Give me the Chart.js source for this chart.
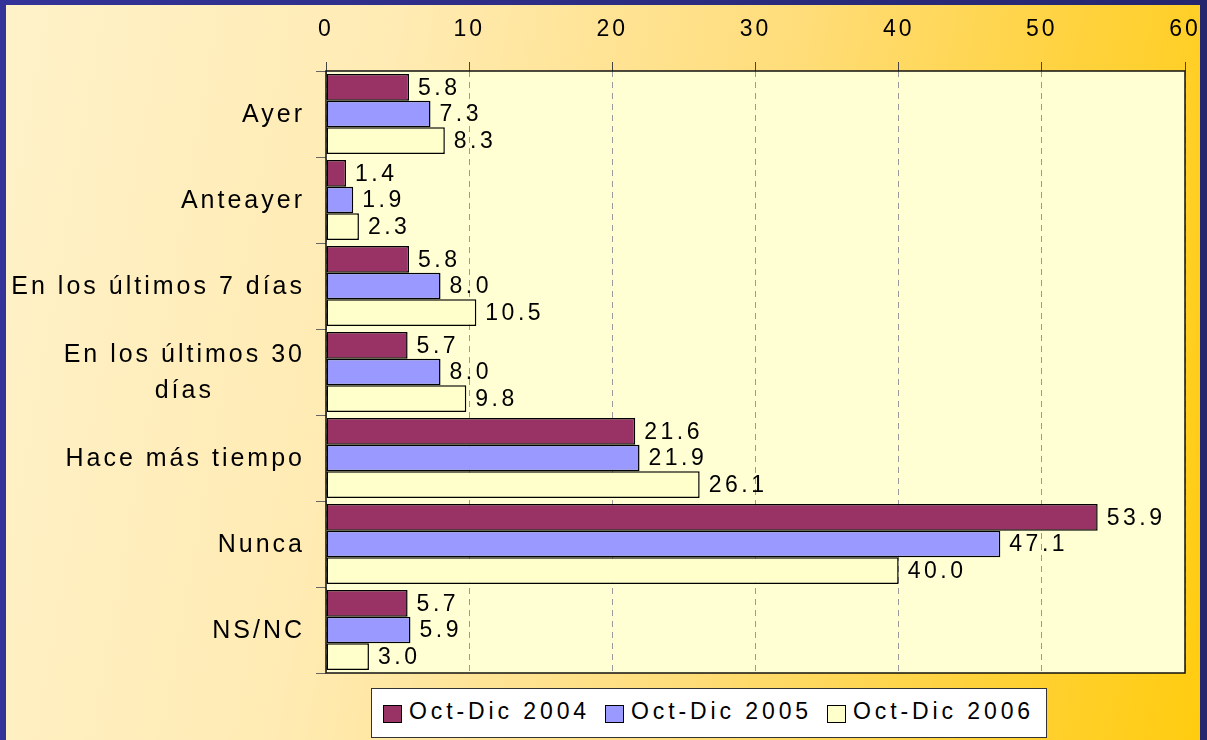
<!DOCTYPE html>
<html>
<head>
<meta charset="utf-8">
<script src="https://cdn.jsdelivr.net/npm/chart.js@4/dist/chart.umd.min.js"></script>
<style>
  html, body { margin: 0; padding: 0; }
  body {
    width: 1207px; height: 740px; overflow: hidden; position: relative;
    background: linear-gradient(to right, #333399, #26266e);
    font-family: "Liberation Sans", Arial, sans-serif;
  }
  #frame {
    position: absolute; left: 6px; top: 5px; width: 1194px; height: 740px;
    background: linear-gradient(100deg, #FFF2C9 0%, #FFEBB3 30%, #FFDD7A 60%, #FFD23C 82%, #FFCC0F 100%);
  }
  #chart { position: absolute; left: 0; top: 0; }
  #legend {
    position: absolute; left: 371px; top: 688px; width: 663px; height: 48px;
    background: #fff; border: 1px solid #333;
    display: flex; align-items: center; padding-left: 11px; box-sizing: content-box;
    font-size: 23px; letter-spacing: 3.9px; color: #000; white-space: nowrap;
  }
  #legend .item { display: flex; align-items: center; flex-shrink: 0; margin-right: 15px; margin-top: -4px; }
  #legend .sw { width: 17px; height: 16px; border: 1px solid #000; margin-right: 7px; margin-top: 6px; flex-shrink: 0; }
</style>
</head>
<body>
<div id="frame"></div>
<canvas id="chart" width="1207" height="740"></canvas>
<div id="legend"></div>
<script>
const categories = ['Ayer', 'Anteayer', 'En los últimos 7 días', ['En los últimos 30', 'días'], 'Hace más tiempo', 'Nunca', 'NS/NC'];
const seriesNames = ['Oct-Dic 2004', 'Oct-Dic 2005', 'Oct-Dic 2006'];
const values2004 = [5.8, 1.4, 5.8, 5.7, 21.6, 53.9, 5.7];
const values2005 = [7.3, 1.9, 8.0, 8.0, 21.9, 47.1, 5.9];
const values2006 = [8.3, 2.3, 10.5, 9.8, 26.1, 40.0, 3.0];
const tickValues = [0, 10, 20, 30, 40, 50, 60];
const seriesColors = ['#993366', '#9999FF', '#FFFFCC'];

// plot area fill + frame, category labels, value labels
const decor = {
  id: 'decor',
  beforeDraw(chart) {
    const a = chart.chartArea, ctx = chart.ctx;
    ctx.save();
    ctx.fillStyle = '#FFFFD3';
    ctx.fillRect(a.left, a.top, a.right - a.left, a.bottom - a.top);
    ctx.restore();
    ctx.letterSpacing = '3px';
  },
  afterDatasetsDraw(chart) {
    const a = chart.chartArea, ctx = chart.ctx;
    ctx.save();
    ctx.strokeStyle = '#111';
    ctx.lineWidth = 1.5;
    ctx.strokeRect(a.left, a.top, a.right - a.left, a.bottom - a.top);

    ctx.font = '23px "Liberation Sans", Arial, sans-serif';
    ctx.letterSpacing = '3.5px';
    ctx.fillStyle = '#000';
    ctx.textBaseline = 'middle';
    ctx.textAlign = 'left';
    chart.data.datasets.forEach((ds, i) => {
      chart.getDatasetMeta(i).data.forEach((bar, j) => {
        ctx.fillText(ds.data[j].toFixed(1), bar.x + 9, bar.y + 1);
      });
    });

    const ys = chart.scales.y;
    ctx.font = '25px "Liberation Sans", Arial, sans-serif';
    ctx.letterSpacing = '3px';
    const right = ys.right - 24;
    categories.forEach((lab, i) => {
      const lines = Array.isArray(lab) ? lab : [lab];
      const widths = lines.map(l => ctx.measureText(l).width - 3);
      const w = Math.max(...widths);
      const yc = ys.getPixelForValue(i);
      lines.forEach((l, k) => {
        const y = yc + (k - (lines.length - 1) / 2) * 36 + 1;
        ctx.fillText(l, right - w / 2 - widths[k] / 2, y);
      });
    });
    ctx.restore();
  }
};

const ctx = document.getElementById('chart').getContext('2d');
new Chart(ctx, {
  type: 'bar',
  data: {
    labels: categories,
    datasets: [values2004, values2005, values2006].map((vals, i) => ({
      label: seriesNames[i],
      data: vals,
      backgroundColor: seriesColors[i],
      borderColor: '#000',
      borderWidth: 1.5,
      borderSkipped: false,
      categoryPercentage: 0.93,
      barPercentage: 1.0
    }))
  },
  options: {
    indexAxis: 'y',
    responsive: false,
    animation: false,
    layout: { padding: { left: 0, right: 22, top: 0, bottom: 67 } },
    plugins: { legend: { display: false }, tooltip: { enabled: false } },
    scales: {
      x: {
        position: 'top',
        min: tickValues[0],
        max: tickValues[tickValues.length - 1],
        afterBuildTicks: s => { s.ticks = tickValues.map(v => ({ value: v })); },
        afterFit: s => { s.height = 71; s.paddingLeft = 0; s.paddingRight = 0; },
        border: { display: false, dash: [6, 5] },
        grid: {
          color: '#9a9a9a',
          lineWidth: 1,
          tickColor: '#444',
          tickLength: 9,
          tickBorderDash: []
        },
        ticks: {
          color: '#000',
          padding: 19,
          font: { family: '"Liberation Sans", Arial, sans-serif', size: 23 }
        }
      },
      y: {
        afterFit: s => { s.width = 326; s.paddingTop = 0; s.paddingBottom = 0; },
        border: { display: false },
        grid: {
          drawOnChartArea: false,
          tickLength: 10,
          tickColor: '#666',
          offset: true
        },
        ticks: { display: false }
      }
    }
  },
  plugins: [decor]
});

// legend box
const legend = document.getElementById('legend');
seriesNames.forEach((name, i) => {
  const item = document.createElement('div');
  item.className = 'item';
  const sw = document.createElement('span');
  sw.className = 'sw';
  sw.style.background = seriesColors[i];
  const txt = document.createElement('span');
  txt.textContent = name;
  item.appendChild(sw);
  item.appendChild(txt);
  legend.appendChild(item);
});
</script>
</body>
</html>
